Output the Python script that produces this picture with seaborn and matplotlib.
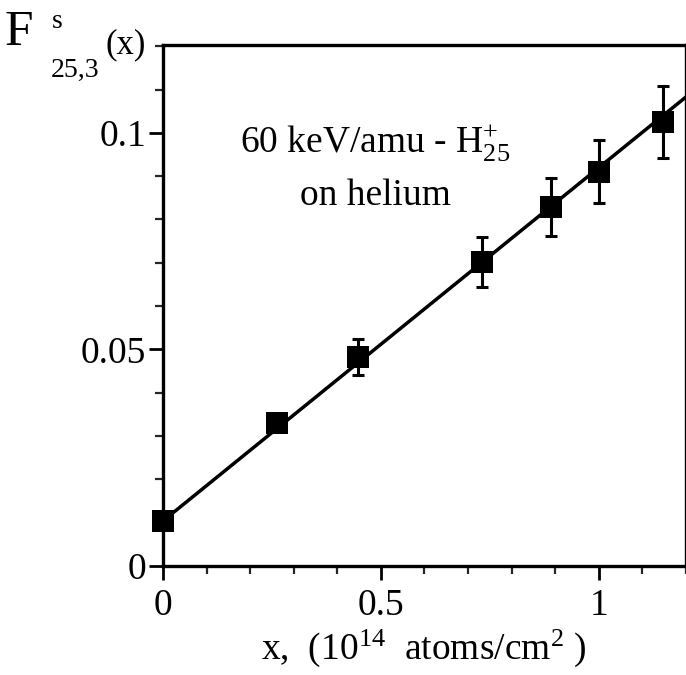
import numpy as np
import pandas as pd
import matplotlib
matplotlib.use("Agg")
import matplotlib.pyplot as plt
import seaborn as sns
from matplotlib.ticker import MultipleLocator

# datos
x_pts = [0.0, 0.262, 0.448, 0.731, 0.89, 1.0, 1.147]
f_pts = [0.0104, 0.033, 0.0483, 0.0702, 0.0829, 0.091, 0.1025]
f_err = [0.0, 0.0, 0.0042, 0.0057, 0.0067, 0.0073, 0.0084]

# recta ajustada (extremos)
fit_x = [0.0, 1.2]
fit_y = [0.0104, 0.1083]

df = pd.DataFrame({"x": x_pts, "F": f_pts, "err": f_err})
df_fit = pd.DataFrame({"x": fit_x, "F": fit_y})

sns.set_theme(style="ticks")
plt.rcParams["font.family"] = ["Liberation Serif", "DejaVu Serif"]
plt.rcParams["mathtext.fontset"] = "custom"
plt.rcParams["mathtext.rm"] = "Liberation Serif"
plt.rcParams["mathtext.it"] = "Liberation Serif"
plt.rcParams["text.color"] = "black"

fig = plt.figure(figsize=(6.86, 6.75), dpi=100)
ax = fig.add_axes([0.2376, 0.1615, 0.7624, 0.7719])

sns.lineplot(data=df_fit, x="x", y="F", color="black", lw=2.5, ax=ax)
ax.errorbar(df["x"], df["F"], yerr=df["err"], fmt="none", ecolor="black",
            elinewidth=2.2, capsize=4.5, capthick=2.2)
sns.scatterplot(data=df, x="x", y="F", marker="s", s=250, color="black",
                edgecolor="black", linewidth=0, ax=ax, zorder=5, clip_on=False)

ax.set_xlim(0, 1.2)
ax.set_ylim(0, 0.1203)
ax.xaxis.set_major_locator(MultipleLocator(0.5))
ax.xaxis.set_minor_locator(MultipleLocator(0.1))
ax.yaxis.set_major_locator(MultipleLocator(0.05))
ax.yaxis.set_minor_locator(MultipleLocator(0.01))
ax.xaxis.set_major_formatter(plt.FuncFormatter(lambda v, p: f"{v:g}"))
ax.yaxis.set_major_formatter(plt.FuncFormatter(lambda v, p: f"{v:g}"))
ax.tick_params(which="major", direction="out", length=10, width=2,
               labelsize=27, colors="black")
ax.tick_params(axis="x", which="major", pad=6)
ax.tick_params(axis="y", which="major", pad=2)
ax.tick_params(which="minor", direction="out", length=6, width=1.6)
for s in ax.spines.values():
    s.set_linewidth(2.4)
    s.set_color("black")

ax.set_xlabel("")
ax.set_ylabel("")
fig.text(0.617, 0.04, r"x,  (10$^{14}$  atoms/cm$^{2}$ )", ha="center",
         va="center", fontsize=27)

# etiqueta eje y
fig.text(0.006, 0.951, "F", fontsize=37, ha="left", va="center")
fig.text(0.076, 0.968, "s", fontsize=20, ha="left", va="center")
fig.text(0.074, 0.896, "25,3", fontsize=20, ha="left", va="center")
fig.text(0.154, 0.933, "(x)", fontsize=25, ha="left", va="center")

ax.text(0.177, 0.0977, r"60 keV/amu - H$^{+}_{25}$", fontsize=27,
        ha="left", va="center")
ax.text(0.315, 0.0855, "on helium", fontsize=27, ha="left", va="center")

plt.savefig("out.png", dpi=100)
plt.close()
